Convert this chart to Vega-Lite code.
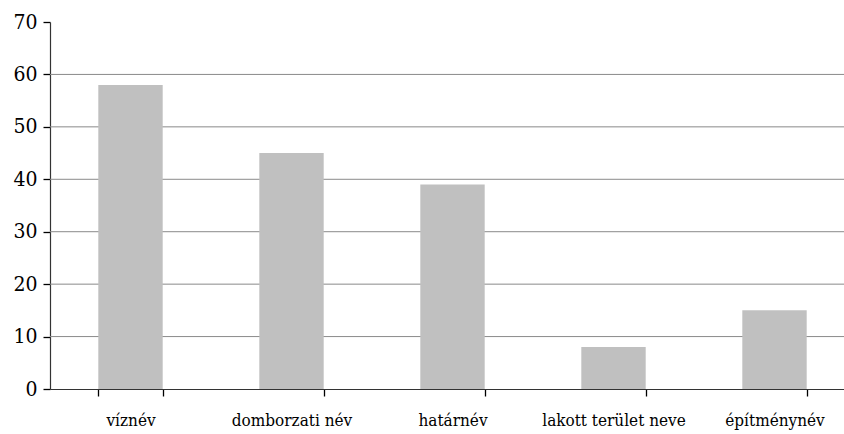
{
  "$schema": "https://vega.github.io/schema/vega-lite/v6.json",
  "width": 805,
  "height": 367,
  "autosize": {"type": "none"},
  "padding": {"left": 50, "top": 22, "right": 0, "bottom": 45},
  "background": "white",
  "datasets": {
    "adatok": [
      {"kategoria": "víznév", "ertek": 58},
      {"kategoria": "domborzati név", "ertek": 45},
      {"kategoria": "határnév", "ertek": 39},
      {"kategoria": "lakott terület neve", "ertek": 8},
      {"kategoria": "építménynév", "ertek": 15}
    ],
    "racs": [{"ertek": 10}, {"ertek": 20}, {"ertek": 30}, {"ertek": 40}, {"ertek": 50}, {"ertek": 60}]
  },
  "layer": [
    {
      "data": {"name": "racs"},
      "mark": {"type": "rule", "color": "#8a8a8a", "strokeWidth": 1},
      "encoding": {
        "y": {"field": "ertek", "type": "quantitative", "title": null, "scale": {"domain": [0, 70], "nice": false}}
      }
    },
    {
      "data": {"name": "adatok"},
      "mark": {"type": "bar", "color": "#c0c0c0"},
      "encoding": {
        "x": {
          "field": "kategoria", "type": "nominal", "sort": null, "title": null,
          "scale": {"paddingInner": 0.6, "paddingOuter": 0.3},
          "axis": {
            "labelAngle": 0, "tickBand": "extent", "grid": false, "labelPadding": 16,
            "ticks": true, "tickSize": 7, "tickColor": "black", "tickWidth": 1.3, "tickOpacity": 1,
            "labelFont": "DejaVu Serif Condensed", "labelFontSize": 17, "labelColor": "#000",
            "domainColor": "#333", "domainWidth": 1.2
          }
        },
        "y": {
          "field": "ertek", "type": "quantitative", "title": null,
          "scale": {"domain": [0, 70], "nice": false},
          "axis": {
            "values": [0, 10, 20, 30, 40, 50, 60, 70], "grid": false, "labelPadding": 6,
            "labelFont": "DejaVu Serif Condensed", "labelFontSize": 21, "labelColor": "#000",
            "ticks": true, "tickSize": 7, "tickColor": "black", "tickWidth": 1.3, "tickOpacity": 1,
            "domainColor": "#333", "domainWidth": 1.2
          }
        }
      }
    }
  ],
  "config": {"view": {"stroke": null}}
}
